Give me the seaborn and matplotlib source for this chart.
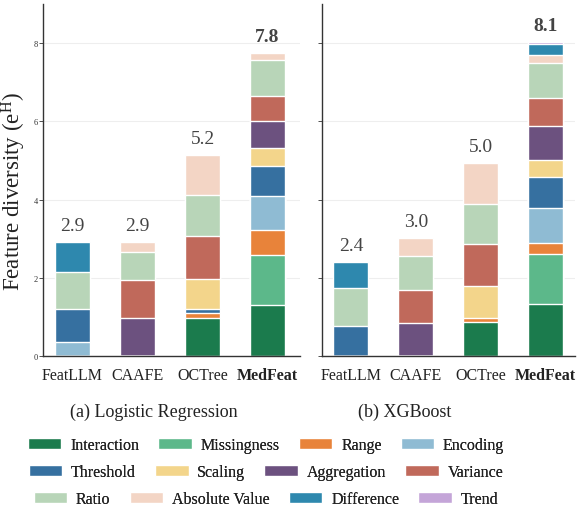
import matplotlib
matplotlib.use("Agg")
import matplotlib.pyplot as plt
import matplotlib.patches as mpatches
import seaborn as sns
import numpy as np
import pandas as pd

sns.set_theme(style="white")
plt.rcParams['font.family'] = ['Liberation Serif', 'DejaVu Serif']
plt.rcParams['mathtext.fontset'] = 'custom'
plt.rcParams['mathtext.rm'] = 'Liberation Serif'
plt.rcParams['mathtext.it'] = 'Liberation Serif'

methods = ["FeatLLM", "CAAFE", "OCTree", "MedFeat"]
types = ["Interaction", "Missingness", "Range", "Encoding", "Threshold", "Scaling",
         "Aggregation", "Variance", "Ratio", "Absolute Value", "Difference", "Trend"]
colors = ["#1b7b4d", "#5cb88a", "#e8833a", "#8fbbd3", "#3670a0", "#f3d58b",
          "#6c517f", "#c0695b", "#b8d5b8", "#f3d5c5", "#2e88ae", "#c4a5d8"]

# rows: methods, columns: types
lr_values = [
    [0.00, 0.00, 0.00, 0.36, 0.85, 0.00, 0.00, 0.00, 0.94, 0.00, 0.77, 0.00],  # FeatLLM
    [0.00, 0.00, 0.00, 0.00, 0.00, 0.00, 0.96, 0.99, 0.70, 0.27, 0.00, 0.00],  # CAAFE
    [0.96, 0.00, 0.15, 0.00, 0.10, 0.75, 0.00, 1.10, 1.07, 1.02, 0.00, 0.00],  # OCTree
    [1.30, 1.28, 0.65, 0.86, 0.76, 0.46, 0.70, 0.63, 0.92, 0.19, 0.00, 0.00],  # MedFeat
]
xgb_values = [
    [0.00, 0.00, 0.00, 0.00, 0.77, 0.00, 0.00, 0.00, 0.96, 0.00, 0.68, 0.00],
    [0.00, 0.00, 0.00, 0.00, 0.00, 0.00, 0.85, 0.84, 0.87, 0.45, 0.00, 0.00],
    [0.88, 0.00, 0.09, 0.00, 0.00, 0.81, 0.00, 1.08, 1.04, 1.04, 0.00, 0.00],
    [1.32, 1.28, 0.28, 0.90, 0.79, 0.45, 0.87, 0.72, 0.89, 0.20, 0.27, 0.07],
]
lr_labels = ["2.9", "2.9", "5.2", "7.8"]
xgb_labels = ["2.4", "3.0", "5.0", "8.1"]

fig = plt.figure(figsize=(5.79, 5.10), dpi=100)
ax1 = fig.add_axes([0.0748, 0.30, 0.4434, 0.690])
ax2 = fig.add_axes([0.5556, 0.30, 0.4375, 0.690], sharey=ax1)


def draw(ax, values, labels, show_ylabels):
    df = pd.DataFrame(values, index=methods, columns=types)
    cum = df.cumsum(axis=1)
    for j in range(len(types) - 1, -1, -1):
        t = types[j]
        d = pd.DataFrame({"method": methods, "val": cum[t].values})
        mask = df[t].values > 0
        d.loc[~mask, "val"] = 0.0
        sns.barplot(data=d, x="method", y="val", color=colors[j], width=0.54,
                    edgecolor="white", linewidth=1.0, saturation=1, ax=ax, zorder=2)
    totals = df.sum(axis=1).values
    for i, (tot, lab) in enumerate(zip(totals, labels)):
        ax.text(i, tot + 0.2, lab, ha="center", va="bottom", fontsize=14,
                color="#444444", fontweight="bold" if i == 3 else "normal")
    ax.set_ylim(0, 9)
    ax.set_yticks([0, 2, 4, 6, 8])
    ax.yaxis.grid(True, color="#eeeeee", linewidth=0.8, zorder=0)
    ax.set_axisbelow(True)
    ax.set_xlabel("")
    ax.set_ylabel("")
    for s in ["top", "right"]:
        ax.spines[s].set_visible(False)
    for s in ["left", "bottom"]:
        ax.spines[s].set_color("#333333")
        ax.spines[s].set_linewidth(1.0)
    ax.tick_params(axis="y", left=True, length=3, width=0.6, labelsize=6,
                   labelleft=show_ylabels, pad=1, colors="#333333")
    ax.tick_params(axis="x", bottom=False, labelsize=11.5, pad=2)
    for lbl in ax.get_xticklabels():
        lbl.set_color("#222222")
        if lbl.get_text() == "MedFeat":
            lbl.set_fontweight("bold")


draw(ax1, lr_values, lr_labels, True)
draw(ax2, xgb_values, xgb_labels, False)
ax1.set_xlim(-0.45, 3.5)
ax2.set_xlim(-0.45, 3.45)
ax1.set_ylabel(r"Feature diversity (e$^{\mathrm{H}}$)", fontsize=16.5, color="#222222")
ax1.yaxis.set_label_coords(-0.058, 0.47)

fig.text(154 / 579, 1 - 412 / 510, "(a) Logistic Regression", ha="center", va="center",
         fontsize=13, color="#222222")
fig.text(405 / 579, 1 - 412 / 510, "(b) XGBoost", ha="center", va="center",
         fontsize=13, color="#222222")

row_y = [446, 473, 500]
for r in range(3):
    handles = [mpatches.Patch(facecolor=colors[k], edgecolor="white", label=types[k])
               for k in range(r * 4, r * 4 + 4)]
    leg = fig.legend(handles=handles, ncol=4, loc="center",
                     bbox_to_anchor=(266 / 579, 1 - row_y[r] / 510), frameon=False,
                     fontsize=11.5, handlelength=2.1, handleheight=0.75,
                     handletextpad=0.55, columnspacing=1.2, borderpad=0, borderaxespad=0)
    for t in leg.get_texts():
        t.set_color("#222222")
    fig.add_artist(leg)

fig.savefig("out.png", dpi=100)
